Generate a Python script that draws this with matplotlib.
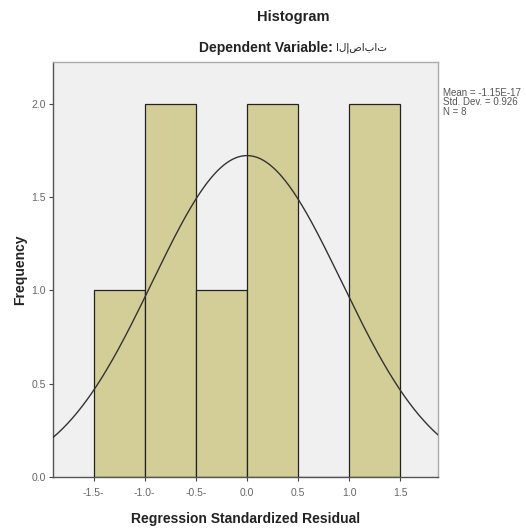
import numpy as np
import matplotlib
matplotlib.use("Agg")
import matplotlib.pyplot as plt

# Data
bin_edges = [-1.5, -1.0, -0.5, 0.0, 0.5, 1.0, 1.5]
counts = [1, 2, 1, 2, 0, 2]
mean_val = -1.15e-17
std_val = 0.926
n_val = 8
x_ticks = [-1.5, -1.0, -0.5, 0.0, 0.5, 1.0, 1.5]
x_tick_labels = ["-1.5-", "-1.0-", "-0.5-", "0.0", "0.5", "1.0", "1.5"]
y_ticks = [0.0, 0.5, 1.0, 1.5, 2.0]
y_tick_labels = ["0.0", "0.5", "1.0", "1.5", "2.0"]
dep_label = "Dependent Variable: "
dep_name = "الإصابات"

plt.rcParams['font.family'] = ['Liberation Sans', 'DejaVu Sans']

fig = plt.figure(figsize=(5.26, 5.29), dpi=100)
ax = fig.add_axes([0.1008, 0.0983, 0.7319, 0.7845])
ax.set_facecolor('#F0F0F0')

widths = np.diff(bin_edges)
ax.bar(bin_edges[:-1], counts, width=widths, align='edge',
       color='#D3CE98', edgecolor='#222222', linewidth=0.9, zorder=2)

xs = np.linspace(-1.9, 1.87, 400)
bw = widths[0]
ys = n_val * bw / (std_val * np.sqrt(2 * np.pi)) * np.exp(-0.5 * ((xs - mean_val) / std_val) ** 2)
ax.plot(xs, ys, color='#333333', linewidth=1.0, zorder=3)

ax.set_xlim(-1.896, 1.867)
ax.set_ylim(0, 2.225)
ax.set_xticks(x_ticks)
ax.set_xticklabels(x_tick_labels, fontsize=7.5, color='#666666')
ax.set_yticks(y_ticks)
ax.set_yticklabels(y_tick_labels, fontsize=7.5, color='#666666')
ax.tick_params(axis='both', direction='out', length=3, width=0.8, color='#444444', pad=2)
ax.tick_params(axis='x', pad=5)

for s in ['left', 'bottom']:
    ax.spines[s].set_color('#555555')
    ax.spines[s].set_linewidth(1.0)
for s in ['top', 'right']:
    ax.spines[s].set_color('#AAAAAA')
    ax.spines[s].set_linewidth(1.0)

ax.set_xlabel('Regression Standardized Residual', fontsize=10, fontweight='bold',
              labelpad=10, color='#222222')
ax.set_ylabel('Frequency', fontsize=10, fontweight='bold', labelpad=3, color='#222222')

fig.text(0.557, 0.968, 'Histogram', ha='center', va='center', fontsize=10.5,
         fontweight='bold', color='#222222')

# Subtitle: bold English part followed by the Arabic variable name
t1 = fig.text(0.0, 0.909, dep_label, ha='left', va='center', fontsize=10,
              fontweight='bold', color='#222222')
t2 = fig.text(0.0, 0.909, dep_name, ha='left', va='center', fontsize=7.5,
              family=['DejaVu Sans'], color='#222222')
fig.canvas.draw()
r = fig.canvas.get_renderer()
w1 = t1.get_window_extent(r).width / fig.bbox.width
w2 = t2.get_window_extent(r).width / fig.bbox.width
x0 = 0.557 - (w1 + w2) / 2
t1.set_x(x0)
t2.set_x(x0 + w1)

fig.text(0.843, 0.834, 'Mean = -1.15E-17\nStd. Dev. = 0.926\nN = 8', ha='left', va='top',
         fontsize=7, color='#555555', linespacing=0.95)

fig.savefig('out.png', dpi=100, facecolor='white')
